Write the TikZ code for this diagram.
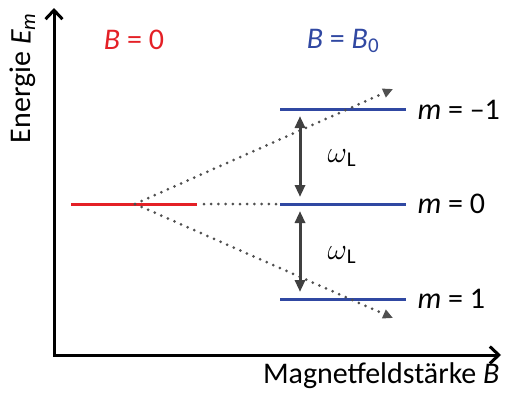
\RequirePackage{fix-cm}
\documentclass[tikz,border=0pt]{standalone}
\usepackage{fontspec}
\setmainfont{Carlito}
\usetikzlibrary{arrows.meta}
\definecolor{fieldred}{RGB}{228,32,38}
\definecolor{fieldblue}{RGB}{48,72,162}
\definecolor{splitgray}{RGB}{80,80,80}
\begin{document}
\begin{tikzpicture}[x=1pt,y=-1pt,font=\fontsize{30}{34}\selectfont,
  axis/.style={line width=3pt,line join=miter,
    {Straight Barb[length=9pt,width=17pt]}-{Straight Barb[length=9pt,width=17pt]}},
  level/.style={line width=3pt},
  split/.style={splitgray,line width=3pt,line cap=round,dash pattern=on 0pt off 7.2pt,
    -{Triangle[length=10pt,width=9pt,line cap=butt]}},
  gap/.style={splitgray!80!black,line width=3pt,{Triangle[length=12pt,width=10pt]}-{Triangle[length=12pt,width=10pt]}}]
  \useasboundingbox (0,0) rectangle (506,399);
  % Axes
  \coordinate (ytip) at (54,8);
  \coordinate (orig) at (54,355);
  \coordinate (xtip) at (501,355);
  \draw[axis] (ytip) -- (orig) -- (xtip);
  \node[rotate=90] (elabel) at (23,78) {Energie \textit{E}\textsubscript{\textit{m}}};
  \node[anchor=east] (blabel) at (503,376) {Magnetfeldstärke \textit{B}};
  % Field labels
  \node[fieldred] (nofield) at (134,40) {\textit{B} = 0};
  \node[fieldblue] (field) at (343,41) {\textit{B} = \textit{B}\textsubscript{0}};
  % Level without field -- red
  \coordinate (r0) at (71,204);
  \coordinate (r1) at (197,204);
  \coordinate (split) at (135,204);
  \draw[level,fieldred] (r0) -- (r1);
  % Levels with field -- blue
  \coordinate (am) at (280,109);  \coordinate (bm) at (406,109);
  \coordinate (az) at (280,204);  \coordinate (bz) at (406,204);
  \coordinate (ap) at (280,299);  \coordinate (bp) at (406,299);
  \draw[level,fieldblue] (am) -- (bm);
  \draw[level,fieldblue] (az) -- (bz);
  \draw[level,fieldblue] (ap) -- (bp);
  \node[anchor=west] (mm) at (414,110) {\textit{m} = –1};
  \node[anchor=west] (mz) at (414,204) {\textit{m} = 0};
  \node[anchor=west] (mp) at (414,299) {\textit{m} = 1};
  % Dotted splitting lines
  \coordinate (upend) at (393,89);
  \coordinate (downend) at (393,318);
  \coordinate (gapend) at (204,204);
  \draw[split] (split) -- (upend);
  \draw[split] (split) -- (downend);
  \draw[split,-] (gapend) -- (az);
  % Larmor gaps
  \coordinate (g1) at (300,109);
  \coordinate (g2) at (300,204);
  \coordinate (g3) at (300,299);
  \draw[gap,shorten <=7pt,shorten >=7pt] (g1) -- (g2);
  \draw[gap,shorten <=7pt,shorten >=7pt] (g2) -- (g3);
  \node[anchor=west] (w1) at (324,158) {$\omega$\textsubscript{L}};
  \node[anchor=west] (w2) at (324,255) {$\omega$\textsubscript{L}};
\end{tikzpicture}
\end{document}
